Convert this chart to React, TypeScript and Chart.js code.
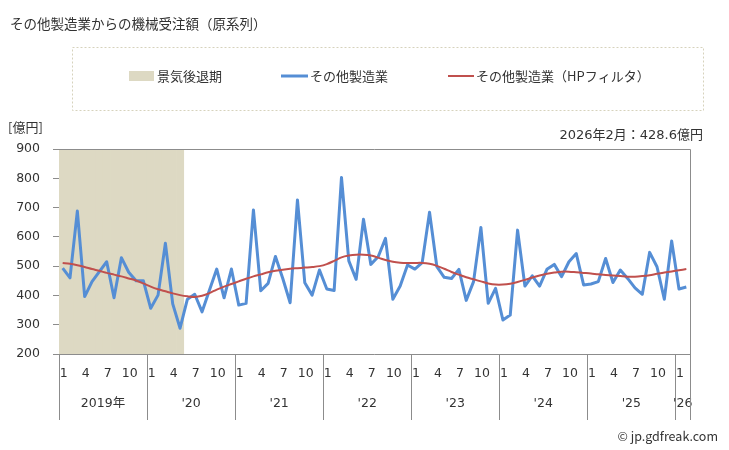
import React, { useEffect, useRef } from "react";
import { Chart, registerables } from "chart.js";

Chart.register(...registerables);

// ---------- data ----------
const startYear = 2019;
const monthCount = 86; // 2019-01 .. 2026-02
const categories: string[] = Array.from({ length: monthCount }, (_, i) =>
  `${startYear + Math.floor(i / 12)}-${String((i % 12) + 1).padStart(2, "0")}`
);

// その他製造業 (億円)
const orders: number[] = [
  493, 460, 688, 396, 447, 481, 515, 392, 529, 479, 450, 450,
  356, 401, 578, 371, 288, 387, 404, 344, 418, 490, 392, 490,
  367, 373, 692, 416, 441, 533, 458, 375, 726, 443, 401, 487,
  422, 417, 803, 518, 455, 660, 506, 532, 595, 387, 432, 504,
  490, 512, 684, 498, 462, 458, 489, 383, 447, 632, 373, 424,
  316, 333, 623, 432, 467, 432, 489, 506, 464, 515, 543, 436,
  439, 447, 526, 444, 487, 458, 426, 404, 547, 498, 387, 586,
  422, 428.6,
];

// その他製造業（HPフィルタ）
const hpTrend: number[] = [
  511, 508, 503, 497, 490, 484, 477, 471, 465, 458, 451, 441,
  430, 421, 414, 407, 401, 397, 395, 399, 408, 420, 430, 439,
  448, 457, 465, 472, 479, 484, 488, 491, 493, 495, 497, 500,
  507, 518, 530, 536, 539, 539, 536, 529, 521, 515, 512, 511,
  511, 511, 508, 501, 491, 480, 471, 462, 455, 448, 441, 437,
  437, 440, 446, 453, 461, 468, 474, 478, 481, 481, 479, 477,
  475, 472, 470, 468, 466, 464, 464, 466, 469, 474, 478, 482,
  486, 490,
];

const recessionFrom = "2019-01";
const recessionTo = "2020-05";

const yMin = 200;
const yMax = 900;
const yStep = 100;

const monthTickLabels: number[] = [1, 4, 7, 10];
const yearLabels: string[] = ["2019年", "'20", "'21", "'22", "'23", "'24", "'25", "'26"];

const titleText = "その他製造業からの機械受注額（原系列）";
const unitText = "[億円]";
const latestText = "2026年2月：428.6億円";
const legendLabels: string[] = ["景気後退期", "その他製造業", "その他製造業（HPフィルタ）"];
const creditText = "© jp.gdfreak.com";

// ---------- styles ----------
const BLUE = "#558ed5";
const RED = "#c0504d";
const BEIGE = "#ddd9c3";
const AXIS = "#8c8c8c";
const TEXT = "#333333";
const JP = "'Noto Sans CJK JP', 'Noto Sans', sans-serif";
const NUM = "'DejaVu Sans', 'Noto Sans CJK JP', sans-serif";

const recessionBars = categories.map((c) =>
  c >= recessionFrom && c <= recessionTo ? yMax : null
);

const overlayPlugin = {
  id: "overlay",
  beforeDraw(chart: any) {
    const ctx = chart.ctx;
    ctx.save();
    ctx.fillStyle = "#ffffff";
    ctx.fillRect(0, 0, chart.width, chart.height);
    ctx.restore();
  },
  afterDraw(chart: any) {
    const ctx: CanvasRenderingContext2D = chart.ctx;
    const { left, right, top, bottom } = chart.chartArea;
    const xs = chart.scales.x;
    const half = (xs.getPixelForValue(1) - xs.getPixelForValue(0)) / 2;
    ctx.save();

    // plot frame (top, right, bottom)
    ctx.strokeStyle = AXIS;
    ctx.lineWidth = 1;
    ctx.beginPath();
    ctx.moveTo(left, Math.round(top) + 0.5);
    ctx.lineTo(Math.round(right) + 0.5, Math.round(top) + 0.5);
    ctx.lineTo(Math.round(right) + 0.5, Math.round(bottom) + 0.5);
    ctx.lineTo(left, Math.round(bottom) + 0.5);
    ctx.stroke();

    // x axis: separators, month labels, year labels
    const sepLen = 66;
    ctx.fillStyle = TEXT;
    ctx.textBaseline = "middle";
    yearLabels.forEach((yl, k) => {
      const s = k * 12;
      const e = Math.min(s + 12, categories.length) - 1;
      const x0 = xs.getPixelForValue(s) - half;
      const x1 = xs.getPixelForValue(e) + half;
      ctx.beginPath();
      ctx.moveTo(Math.round(x0) + 0.5, bottom);
      ctx.lineTo(Math.round(x0) + 0.5, bottom + sepLen);
      ctx.stroke();
      ctx.font = `12.5px ${NUM}`;
      ctx.textAlign = "center";
      monthTickLabels.forEach((m) => {
        const idx = s + m - 1;
        if (idx <= e) {
          ctx.fillText(String(m), xs.getPixelForValue(idx) + 1, bottom + 20);
        }
      });
      ctx.font = `12.5px ${NUM}`;
      ctx.fillText(yl, (x0 + x1) / 2, bottom + 50);
    });
    const xEnd = xs.getPixelForValue(categories.length - 1) + half;
    ctx.beginPath();
    ctx.moveTo(Math.round(xEnd) + 0.5, bottom);
    ctx.lineTo(Math.round(xEnd) + 0.5, bottom + sepLen);
    ctx.stroke();

    // title
    ctx.textAlign = "left";
    ctx.font = `13.5px ${JP}`;
    ctx.fillStyle = TEXT;
    ctx.fillText(titleText, 10, 24);

    // legend box
    ctx.strokeStyle = "#d6d2bc";
    ctx.setLineDash([2, 2]);
    ctx.strokeRect(72.5, 47.5, 631, 63);
    ctx.setLineDash([]);

    const ly = 76;
    ctx.font = `13px ${JP}`;
    ctx.fillStyle = BEIGE;
    ctx.fillRect(129, ly - 5, 25, 10);
    ctx.fillStyle = TEXT;
    ctx.fillText(legendLabels[0], 157, ly);

    ctx.strokeStyle = BLUE;
    ctx.lineWidth = 3;
    ctx.beginPath();
    ctx.moveTo(281, ly);
    ctx.lineTo(308, ly);
    ctx.stroke();
    ctx.fillText(legendLabels[1], 310, ly);

    ctx.strokeStyle = RED;
    ctx.lineWidth = 2;
    ctx.beginPath();
    ctx.moveTo(448, ly);
    ctx.lineTo(474, ly);
    ctx.stroke();
    ctx.fillText(legendLabels[2], 476, ly);

    // unit & latest value
    ctx.font = `13px ${JP}`;
    ctx.fillText(unitText, 8, 127);
    ctx.textAlign = "right";
    ctx.font = `13px ${NUM}`;
    ctx.fillText(latestText, 703, 136);

    // credit
    ctx.font = `12.5px ${JP}`;
    ctx.fillText(creditText, 718, 436);

    ctx.restore();
  },
};

export default function App() {
  const canvasRef = useRef<HTMLCanvasElement | null>(null);

  useEffect(() => {
    if (!canvasRef.current) return;
    const chart = new Chart(canvasRef.current, {
      type: "line",
      data: {
        labels: categories,
        datasets: [
          {
            type: "line",
            label: legendLabels[2],
            data: hpTrend,
            borderColor: RED,
            borderWidth: 2,
            pointRadius: 0,
            tension: 0.3,
            order: 1,
          },
          {
            type: "line",
            label: legendLabels[1],
            data: orders,
            borderColor: BLUE,
            borderWidth: 3,
            borderJoinStyle: "round",
            pointRadius: 0,
            tension: 0,
            order: 2,
          },
          {
            type: "bar",
            label: legendLabels[0],
            data: recessionBars as any,
            backgroundColor: BEIGE,
            borderWidth: 0,
            barPercentage: 1,
            categoryPercentage: 1,
            order: 3,
          } as any,
        ],
      },
      options: {
        animation: false,
        responsive: false,
        devicePixelRatio: 1,
        layout: { padding: { top: 149, bottom: 96, left: 0, right: 39 } },
        plugins: {
          legend: { display: false },
          tooltip: { enabled: false },
          title: { display: false },
        },
        scales: {
          x: {
            type: "category",
            display: false,
            offset: true,
          },
          y: {
            min: yMin,
            max: yMax,
            afterFit: (scale: any) => {
              scale.width = 59;
            },
            ticks: {
              stepSize: yStep,
              color: TEXT,
              font: { family: NUM, size: 12.5 },
              padding: 13,
            },
            grid: {
              drawOnChartArea: false,
              drawTicks: true,
              tickLength: 6,
              color: AXIS,
            },
            border: { display: true, color: AXIS },
          },
        },
      },
      plugins: [overlayPlugin],
    });
    return () => chart.destroy();
  }, []);

  return (
    <div style={{ position: "absolute", left: 0, top: 0, width: 729, height: 450 }}>
      <canvas ref={canvasRef} width={729} height={450} style={{ display: "block" }} />
    </div>
  );
}
